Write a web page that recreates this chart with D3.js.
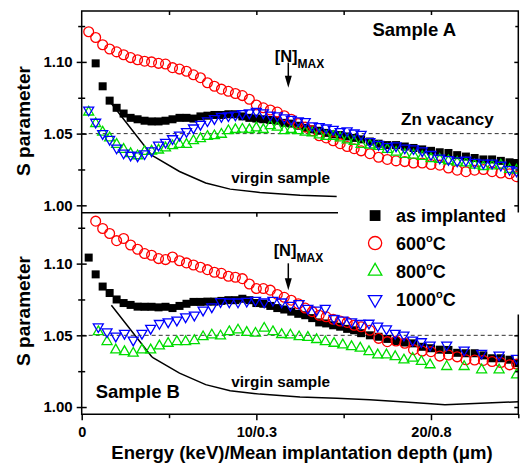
<!DOCTYPE html>
<html lang="en">
<head>
<meta charset="utf-8">
<title>S parameter vs energy</title>
<script src="https://d3js.org/d3.v7.min.js"></script>
<style>
  body { margin: 0; background: #fff; }
  text { font-family: Arial, "Liberation Sans", sans-serif; font-weight: bold; fill: #000; }
</style>
</head>
<body>
<script>

// ---- data (energy in keV, S parameter) ----

var energyDense = [
  0.4, 0.8, 1.2, 1.6, 2.0, 2.4, 2.8, 3.2, 3.6, 4.0,
  4.4, 4.8, 5.2, 5.6, 6.0, 6.4, 6.8, 7.2, 7.6, 8.0,
  8.4, 8.8, 9.2, 9.6, 10.0, 10.4, 10.8, 11.2, 11.6, 12.0,
  12.4, 12.8, 13.2, 13.6, 14.0, 14.4, 14.8, 15.2, 15.6, 16.0,
  16.5, 17.0, 17.5, 18.0, 18.5, 19.0, 19.5, 20.0, 20.5, 21.0,
  21.5, 22.0, 22.5, 23.0, 23.5, 24.0, 24.5, 24.9];

var energySparse = [
  0.95, 1.45, 1.95, 2.45, 2.95, 3.45, 3.95, 4.45, 4.95, 5.45,
  5.95, 6.45, 6.95, 7.45, 7.95, 8.45, 8.95, 9.45, 9.95, 10.45,
  10.95, 11.45, 11.95, 12.45, 12.95, 13.45, 13.95, 14.45, 14.95, 15.45,
  15.95, 16.45, 16.95, 17.45, 17.95, 18.45, 18.95, 19.45, 19.95, 20.9,
  21.9, 22.9, 23.9, 24.9];

// Sample A
var aImplanted = [
  null, 1.099, 1.083, 1.073, 1.068, 1.064, 1.061, 1.060, 1.059, 1.0585,
  1.0585, 1.059, 1.060, 1.061, 1.061, 1.0605, 1.062, 1.0625, 1.063, 1.063,
  1.0635, 1.0635, 1.062, 1.061, 1.0605, 1.060, 1.0595, 1.059, 1.0575, 1.057,
  1.0555, 1.054, 1.053, 1.052, 1.0505, 1.0495, 1.049, 1.048, 1.047, 1.046,
  1.0445, 1.043, 1.042, 1.042, 1.041, 1.040, 1.039, 1.038, 1.037, 1.0365,
  1.035, 1.034, 1.033, 1.032, 1.032, 1.031, 1.030, 1.0295];
var a600 = [
  1.121, 1.117, 1.112, 1.109, 1.107, 1.105, 1.103, 1.1015, 1.1005, 1.100,
  1.099, 1.0985, 1.096, 1.095, 1.0935, 1.091, 1.089, 1.0855, 1.083, 1.081,
  1.0795, 1.078, 1.0765, 1.074, 1.070, 1.068, 1.0665, 1.065, 1.0625, 1.060,
  1.057, 1.0545, 1.052, 1.0485, 1.047, 1.045, 1.043, 1.041, 1.0395, 1.038,
  1.036, 1.0335, 1.032, 1.031, 1.0305, 1.0295, 1.0295, 1.0285, 1.028, 1.026,
  1.0245, 1.0235, 1.0245, 1.025, 1.0235, 1.0225, 1.022, 1.020];
var a800 = [
  1.065, 1.057, 1.051, 1.047, 1.0425, 1.039, 1.036, 1.0345, 1.0375, 1.0378,
  1.0385, 1.040, 1.0415, 1.0425, 1.0425, 1.045, 1.0465, 1.048, 1.0485, 1.0495,
  1.052, 1.0528, 1.053, 1.0528, 1.054, 1.0528, 1.0555, 1.0545, 1.052, 1.0528,
  1.052, 1.051, 1.0505, 1.049, 1.048, 1.048, 1.047, 1.0455, 1.0445, 1.0425,
  1.042, 1.041, 1.039, 1.037, 1.0355, 1.035, 1.034, 1.0325, 1.032, 1.031,
  1.030, 1.0295, 1.028, 1.027, 1.0275, 1.028, 1.025, 1.0245];
var a1000 = [
  1.0665, 1.058, 1.050, 1.046, 1.040, 1.0365, 1.035, 1.0345, 1.036, 1.038,
  1.042, 1.044, 1.0465, 1.049, 1.0515, 1.054, 1.0565, 1.059, 1.0605, 1.062,
  1.0625, 1.063, 1.064, 1.0645, 1.0655, 1.0645, 1.063, 1.0625, 1.061, 1.060,
  1.059, 1.0585, 1.0555, 1.055, 1.054, 1.053, 1.0515, 1.052, 1.0505, 1.0495,
  1.0445, 1.0425, 1.041, 1.0415, 1.040, 1.0395, 1.038, 1.0355, 1.033, 1.032,
  1.031, 1.0315, 1.030, 1.0295, 1.0295, 1.028, 1.025, 1.024];

// Sample B
var bImplanted = [
  1.1042, 1.0925, 1.084, 1.0795, 1.075, 1.0725, 1.0712, 1.070, 1.0699, 1.0699,
  1.0695, 1.0699, 1.069, 1.0705, 1.072, 1.0733, 1.0733, 1.0735, 1.0735, 1.074,
  1.0745, 1.0745, 1.0755, 1.0745, 1.0725, 1.072, 1.0705, 1.069, 1.068, 1.0665,
  1.065, 1.064, 1.062, 1.059, 1.0583, 1.057, 1.056, 1.0545, 1.0535, 1.0515,
  1.050, 1.049, 1.0475, 1.046, 1.045, 1.0444, 1.042, 1.041, 1.040, 1.0398,
  1.0378, 1.0375, 1.0375, 1.036, 1.034, 1.034, 1.033, 1.0306];
var b600 = [
  null, 1.1296, 1.1245, 1.121, 1.116, 1.1175, 1.113, 1.110, 1.107, 1.1058,
  1.1035, 1.1028, 1.1046, 1.102, 1.1005, 1.099, 1.0975, 1.0958, 1.094, 1.0932,
  1.0912, 1.0905, 1.0895, 1.0858, 1.0826, 1.0826, 1.0815, 1.0785, 1.0765, 1.0745,
  1.072, 1.069, 1.0665, 1.064, 1.0629, 1.0612, 1.060, 1.059, 1.057, 1.056,
  1.0535, 1.0479, 1.0456, 1.046, 1.0445, 1.040, 1.039, 1.0386, 1.0355, 1.0363,
  1.035, 1.033, 1.0328, 1.0325, 1.0317, 1.031, 1.0294, 1.030];
var b800 = [
  1.0525, 1.0456, 1.0398, 1.0386, 1.0375, 1.0398, 1.0398, 1.0426, 1.0444, 1.0456,
  1.0456, 1.0463, 1.049, 1.0502, 1.0495, 1.0525, 1.0537, 1.052, 1.0514, 1.0549,
  1.0525, 1.0505, 1.0502, 1.049, 1.0485, 1.047, 1.0455, 1.0444, 1.0433, 1.0421,
  1.041, 1.0386, 1.0363, 1.0363, 1.0351, 1.0328, 1.034, 1.0317, 1.0294, 1.0282,
  1.0282, 1.0259, 1.0259, 1.0224];
var b1000 = [
  1.056, 1.0525, 1.0495, 1.0514, 1.0467, 1.0514, 1.0549, 1.0583, 1.0594, 1.0606,
  1.0629, 1.0641, 1.0676, 1.0699, 1.0735, 1.0733, 1.0733, 1.0738, 1.0745, 1.0733,
  1.0745, 1.0733, 1.071, 1.0722, 1.0688, 1.0676, 1.0688, 1.0618, 1.0606, 1.0594,
  1.0583, 1.0585, 1.0565, 1.0545, 1.0514, 1.0502, 1.0467, 1.0456, 1.0433, 1.0433,
  1.0398, 1.0375, 1.0363, 1.034];

// virgin sample reference curve
var virginEnergy = [1.7, 4.0, 4.1, 5.6, 7.1, 8.5, 10.2, 12.5, 14.6, 16.5, 18.5, 20.0, 20.8, 22.5, 25.0];
var virginS = [1.071, 1.0352, 1.0343, 1.0236, 1.0156, 1.0113, 1.009, 1.007, 1.0062, 1.0051, 1.0035, 1.0023, 1.0016, 1.0025, 1.0037];

var xTicks = [0, 10, 20];
var xTickLabels = ["0", "10/0.3", "20/0.8"];
var yTicks = [1.00, 1.05, 1.10];
var yMinor = [1.025, 1.075, 1.125];
var znVacancy = 1.05;
var legendLabels = ["as implanted", "600", "800", "1000"];

// ---- layout ----

var w = 525, h = 464;
var left = 81.7, right = 518.3;
var panelH = 201.5;
var panelTops = [11, 212.7];

var svg = d3.select("body").append("svg")
    .attr("width", w)
    .attr("height", h);

svg.append("rect").attr("width", w).attr("height", h).attr("fill", "#fff");

var x = d3.scaleLinear().domain([0, 25]).range([left, right]);

function makeY(top) {
  return d3.scaleLinear().domain([0.995, 1.1355]).range([top + panelH, top]);
}
var yA = makeY(panelTops[0]);
var yB = makeY(panelTops[1]);

var triUp = "M0,-5.8L5,2.9L-5,2.9Z";
var triDown = "M0,5.8L5,-2.9L-5,-2.9Z";

var styles = {
  implanted: {kind: "square"},
  c600: {kind: "circle", color: "#ff0000"},
  c800: {kind: "up", color: "#00dd00"},
  c1000: {kind: "down", color: "#0000ff"}
};

function zip(es, vs) {
  return es.map((e, i) => ({e: e, s: vs[i]})).filter(d => d.s != null);
}

function drawMarkers(g, data, st, y, k) {
  k = k || 1;
  var sel = g.append("g").selectAll("*").data(data).enter();
  if (st.kind == "square") {
    sel.append("rect")
        .attr("x", d => x(d.e) - 4 * k)
        .attr("y", d => y(d.s) - 4 * k)
        .attr("width", 8 * k)
        .attr("height", 8 * k)
        .attr("fill", "#000");
  } else if (st.kind == "circle") {
    sel.append("circle")
        .attr("cx", d => x(d.e))
        .attr("cy", d => y(d.s))
        .attr("r", 4.9 * k)
        .attr("fill", "none")
        .attr("stroke", st.color)
        .attr("stroke-width", 1.3);
  } else {
    sel.append("path")
        .attr("d", st.kind == "up" ? triUp : triDown)
        .attr("transform", d => `translate(${x(d.e)},${y(d.s)}) scale(${k})`)
        .attr("fill", "none")
        .attr("stroke", st.color)
        .attr("stroke-width", 1.3 / k);
  }
}

function drawArrow(g, e, s0, s1, y) {
  var xx = x(e), y0 = y(s0), y1 = y(s1);
  g.append("line")
      .attr("x1", xx).attr("x2", xx)
      .attr("y1", y0).attr("y2", y1 - 10)
      .attr("stroke", "#000").attr("stroke-width", 1.5);
  g.append("path")
      .attr("d", `M${xx - 3.5},${y1 - 12}L${xx + 3.5},${y1 - 12}L${xx},${y1}Z`)
      .attr("fill", "#000");
}

function nMax(g, e, s, y) {
  var t = g.append("text")
      .attr("x", x(e)).attr("y", y(s))
      .style("font-size", "16.5px")
      .text("[N]");
  t.append("tspan")
      .attr("dy", 6)
      .style("font-size", "12px")
      .text("MAX");
}

function drawPanel(idx, y, series, opts) {
  var top = panelTops[idx];
  var g = svg.append("g");

  g.append("clipPath").attr("id", "clip" + idx)
    .append("rect")
      .attr("x", left).attr("y", top)
      .attr("width", right - left).attr("height", panelH);

  var plot = g.append("g").attr("clip-path", `url(#clip${idx})`);

  // Zn vacancy level
  plot.append("line")
      .attr("x1", left).attr("x2", right)
      .attr("y1", y(znVacancy)).attr("y2", y(znVacancy))
      .attr("stroke", "#333")
      .attr("stroke-width", 1)
      .attr("stroke-dasharray", "4,3");

  // virgin sample line
  var virgin = zip(virginEnergy, virginS).filter(d => d.e <= opts.virginMax);
  plot.append("path")
      .datum(virgin)
      .attr("d", d3.line().x(d => x(d.e)).y(d => y(d.s)))
      .attr("fill", "none")
      .attr("stroke", "#000")
      .attr("stroke-width", 1.5);

  series.forEach(sr => drawMarkers(plot, zip(sr.energy, sr.values), sr.style, y));

  // annotations
  g.append("text")
      .attr("x", x(opts.virginLabel[0])).attr("y", y(opts.virginLabel[1]))
      .style("font-size", "15.3px")
      .text("virgin sample");
  g.append("text")
      .attr("x", x(opts.sample[0])).attr("y", y(opts.sample[1]))
      .style("font-size", "18.5px")
      .text(opts.sample[2]);
  nMax(g, opts.nmax[0], opts.nmax[1], y);
  drawArrow(g, 11.83, opts.arrow[0], opts.arrow[1], y);

  return g;
}

function drawFrame(g, y, idx, withBottom) {
  var top = panelTops[idx];
  var bottom = top + panelH;

  // left axis: labelled ticks crossing the axis line
  g.append("g").attr("transform", `translate(${left},0)`)
      .call(d3.axisLeft(y).tickValues(yTicks).tickSize(5).tickSizeOuter(0).tickPadding(4)
        .tickFormat(d3.format(".2f")))
      .call(a => a.select(".domain").remove())
      .call(a => a.selectAll("text").style("font-size", "15px").style("font-family", null));
  g.append("g").attr("transform", `translate(${left},0)`)
      .call(d3.axisRight(y).tickValues(yTicks).tickSize(5).tickSizeOuter(0).tickFormat(""))
      .call(a => a.select(".domain").remove())
      .call(a => a.selectAll("text").remove());
  [d3.axisLeft, d3.axisRight].forEach(ax => {
    g.append("g").attr("transform", `translate(${left},0)`)
        .call(ax(y).tickValues(yMinor).tickSize(3.5).tickSizeOuter(0).tickFormat(""))
        .call(a => a.select(".domain").remove())
        .call(a => a.selectAll("text").remove());
  });

  // right axis ticks (inward)
  g.append("g").attr("transform", `translate(${right},0)`)
      .call(d3.axisLeft(y).tickValues(yTicks).tickSize(4).tickSizeOuter(0).tickFormat(""))
      .call(a => a.select(".domain").remove())
      .call(a => a.selectAll("text").remove());
  g.append("g").attr("transform", `translate(${right},0)`)
      .call(d3.axisLeft(y).tickValues(yMinor).tickSize(3).tickSizeOuter(0).tickFormat(""))
      .call(a => a.select(".domain").remove())
      .call(a => a.selectAll("text").remove());

  // top ticks (inward)
  g.append("g").attr("transform", `translate(0,${top})`)
      .call(d3.axisBottom(x).tickValues([5, 10, 15, 20]).tickSize(4).tickSizeOuter(0).tickFormat(""))
      .call(a => a.select(".domain").remove())
      .call(a => a.selectAll("text").remove());

  if (withBottom) {
    g.append("g").attr("transform", `translate(0,${bottom})`)
        .call(d3.axisBottom(x).tickValues(xTicks).tickSize(6).tickSizeOuter(0).tickPadding(6.5)
          .tickFormat((d, i) => xTickLabels[i]))
        .call(a => a.select(".domain").remove())
        .call(a => a.selectAll("text").style("font-size", "14.5px").style("font-family", null));
    g.append("g").attr("transform", `translate(0,${bottom})`)
        .call(d3.axisBottom(x).tickValues([5, 15, 25]).tickSize(4).tickSizeOuter(0).tickFormat(""))
        .call(a => a.select(".domain").remove())
        .call(a => a.selectAll("text").remove());
  }

  g.selectAll(".tick line").attr("stroke-width", 1.5);

  var path = `M${left},${bottom}L${left},${top}L${right},${top}L${right},${bottom}`;
  if (withBottom) path += "Z";
  g.append("path")
      .attr("d", path)
      .attr("fill", "none")
      .attr("stroke", "#000")
      .attr("stroke-width", 1.5);
}

// ---- Sample B (lower panel) ----
var gB = drawPanel(1, yB, [
  {energy: energyDense, values: bImplanted, style: styles.implanted},
  {energy: energyDense, values: b600, style: styles.c600},
  {energy: energySparse, values: b800, style: styles.c800},
  {energy: energySparse, values: b1000, style: styles.c1000}
], {
  virginMax: 25,
  virginLabel: [8.57, 1.0143],
  sample: [0.8, 1.0065, "Sample B"],
  nmax: [10.99, 1.1051],
  arrow: [1.1002, 1.0815]
});
drawFrame(gB, yB, 1, true);

// legend box (white, sits over the lower panel's frame)
var legend = svg.append("g");
legend.append("rect")
    .attr("x", 338).attr("y", 211.5)
    .attr("width", 190).attr("height", 103)
    .attr("fill", "#fff");

var legendStyles = [styles.implanted, styles.c600, styles.c800, styles.c1000];
var legendRows = [1.1335, 1.1143, 1.0947, 1.0750];
legendStyles.forEach((st, i) => {
  var row = legend.append("g");
  drawMarkers(row, [{e: 16.8, s: legendRows[i]}], st, yB, 1.35);
  var t = row.append("text")
      .attr("x", x(18.0)).attr("y", yB(legendRows[i]) + 6.5)
      .style("font-size", "18px")
      .text(legendLabels[i]);
  if (i > 0) {
    t.append("tspan").attr("dy", -8).style("font-size", "11px").text("o");
    t.append("tspan").attr("dy", 8).text("C");
  }
});

// ---- Sample A (upper panel) ----
var gA = drawPanel(0, yA, [
  {energy: energyDense, values: aImplanted, style: styles.implanted},
  {energy: energyDense, values: a600, style: styles.c600},
  {energy: energyDense, values: a800, style: styles.c800},
  {energy: energyDense, values: a1000, style: styles.c1000}
], {
  virginMax: 14.6,
  virginLabel: [8.57, 1.0158],
  sample: [16.65, 1.1179, "Sample A"],
  nmax: [11.05, 1.1002],
  arrow: [1.0995, 1.082]
});
gA.append("text")
    .attr("x", x(18.29)).attr("y", yA(1.0563))
    .style("font-size", "17px")
    .text("Zn vacancy");
drawFrame(gA, yA, 0, false);

// ---- axis titles ----
svg.append("text")
    .attr("x", (left + right) / 2 + 2).attr("y", 458.5)
    .attr("text-anchor", "middle")
    .style("font-size", "18.5px")
    .text("Energy (keV)/Mean implantation depth (\u03bcm)");

[121, 311].forEach(cy => {
  svg.append("text")
      .attr("transform", `translate(30,${cy}) rotate(-90)`)
      .attr("text-anchor", "middle")
      .style("font-size", "19px")
      .text("S parameter");
});

</script>
</body>
</html>
